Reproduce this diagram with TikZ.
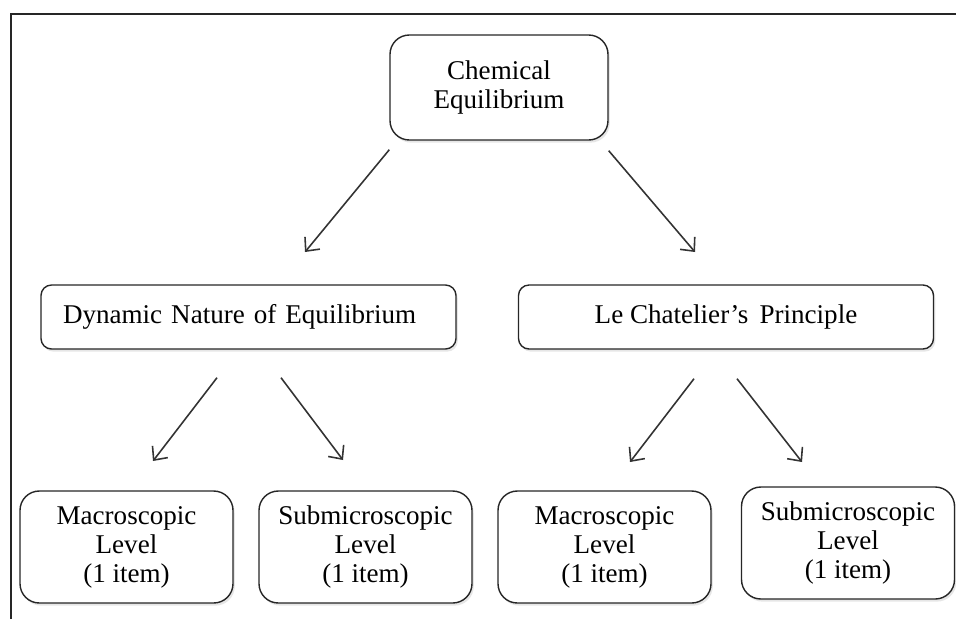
\documentclass[tikz,border=0pt]{standalone}
\usepackage{fontspec}
\setmainfont{Liberation Serif}
\usetikzlibrary{shapes,arrows.meta,calc,positioning,shadows}

\begin{document}
\begin{tikzpicture}[box/.style={draw=black!85,thick,rounded corners=11pt,fill=white,align=center,
		font=\fontsize{15.4}{16.5}\selectfont,
		drop shadow={opacity=0.2,shadow xshift=1pt,shadow yshift=-1.5pt}},
	arr/.style={-{Straight Barb[length=6pt,width=11pt]},line width=0.9pt,black!80}]
\useasboundingbox (0,0) rectangle (19.12,-12.38);

% frame
\draw[thick,black!85] (0.22,-12.38) -- (0.22,-0.28) -- (19.12,-0.28);

\node[box,minimum width=4.36cm,minimum height=2.1cm] at (9.98,-1.75) (chem) {Chemical\\Equilibrium};

\node[box,rounded corners=6pt,minimum width=8.3cm,minimum height=1.28cm,inner xsep=0.44cm,text width=7.42cm,align=left] at (4.97,-6.34) (dyn) {Dynamic Nature of Equilibrium};
\node[box,rounded corners=6pt,minimum width=8.3cm,minimum height=1.28cm] at (14.52,-6.34) (lec) {Le Chatelier's\, Principle};

\foreach \n/\x/\y/\t in {mac1/2.53/-10.94/Macroscopic,sub1/7.31/-10.94/Submicroscopic,mac2/12.09/-10.94/Macroscopic,sub2/16.96/-10.86/Submicroscopic}
	\node[box,minimum width=4.26cm,minimum height=2.24cm] at (\x,\y) (\n) {\t\\Level\\(1 item)};

% arrow tips
\coordinate (t1) at (6.1,-5.04);
\coordinate (t2) at (13.9,-5.04);
\coordinate (t3) at (3.06,-9.22);
\coordinate (t4) at (6.86,-9.2);
\coordinate (t5) at (12.6,-9.24);
\coordinate (t6) at (16.04,-9.24);

\draw[arr] ([yshift=-0.18cm]chem.south west) -- (t1);
\draw[arr] ([yshift=-0.2cm]chem.south east) -- (t2);

\draw[arr] ([xshift=-0.63cm,yshift=-0.56cm]dyn.south) -- (t3);
\draw[arr] ([xshift=0.65cm,yshift=-0.56cm]dyn.south) -- (t4);
\draw[arr] ([xshift=-0.64cm,yshift=-0.58cm]lec.south) -- (t5);
\draw[arr] ([xshift=0.22cm,yshift=-0.58cm]lec.south) -- (t6);
\end{tikzpicture}
\end{document}
